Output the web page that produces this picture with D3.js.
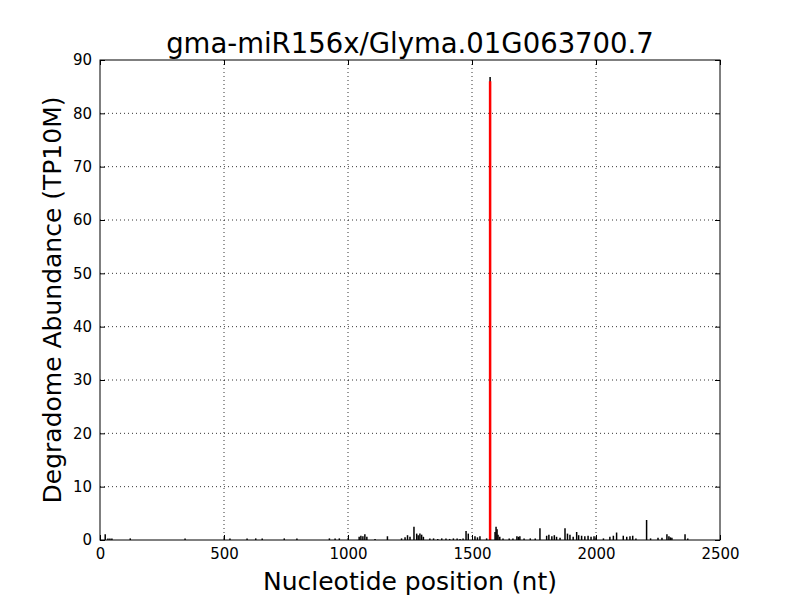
<!DOCTYPE html>
<html>
<head>
<meta charset="utf-8">
<script src="https://cdn.jsdelivr.net/npm/d3@7"></script>
<style>
  body { margin: 0; background: #fff; }
  text { font-family: "DejaVu Sans", sans-serif; }
</style>
</head>
<body>
<div id="chart"></div>
<script>
// chart text
var title = "gma-miR156x/Glyma.01G063700.7";
var xLabel = "Nucleotide position (nt)";
var yLabel = "Degradome Abundance (TP10M)";

// tick values
var xTicks = [0, 500, 1000, 1500, 2000, 2500];
var yTicks = [0, 10, 20, 30, 40, 50, 60, 70, 80, 90];

// degradome profile (position in nt, abundance)
var positions = [21, 32, 40, 48, 122, 343, 501, 524, 593, 628, 654, 743, 794, 925, 948, 965,
  1001, 1045, 1052, 1060, 1068, 1076, 1109, 1159, 1216, 1230, 1240, 1250, 1266, 1277, 1283, 1290, 1297, 1304,
  1330, 1345, 1362, 1378, 1395, 1410, 1425, 1440, 1452, 1464, 1476, 1485, 1512, 1522, 1532, 1559,
  1573, 1593, 1597, 1601, 1605, 1612, 1625, 1650, 1665, 1681, 1687, 1693, 1710, 1735, 1755, 1774,
  1801, 1810, 1822, 1832, 1841, 1855, 1875, 1885, 1895, 1908, 1922, 1930, 1942, 1955, 1968, 1980, 1992, 2000,
  2030, 2056, 2070, 2083, 2110, 2124, 2137, 2148, 2161, 2204, 2220, 2250, 2266, 2286, 2294, 2300, 2306, 2359, 2370];
var abundance = [1.1, 0.3, 0.3, 0.3, 0.3, 0.3, 0.5, 0.3, 0.3, 0.3, 0.3, 0.3, 0.3, 0.3, 0.3, 0.3,
  0.4, 0.6, 0.8, 0.7, 1.1, 0.6, 0.2, 0.7, 0.3, 0.5, 0.9, 0.6, 2.5, 1.2, 0.9, 1.2, 1.0, 0.6,
  0.3, 0.3, 0.2, 0.3, 0.3, 0.2, 0.3, 0.3, 0.2, 0.3, 1.7, 1.2, 0.7, 0.5, 0.7, 0.3,
  86.8, 1.5, 2.5, 2.0, 1.0, 0.6, 0.3, 0.3, 0.3, 0.7, 0.6, 0.7, 0.3, 0.3, 0.3, 2.2,
  0.8, 1.0, 0.7, 0.9, 0.6, 0.4, 2.2, 1.2, 1.0, 0.6, 1.5, 0.9, 0.8, 0.7, 0.8, 0.6, 0.7, 0.5,
  0.3, 0.6, 0.8, 1.4, 0.8, 0.6, 0.7, 0.8, 0.3, 3.75, 0.3, 0.4, 0.4, 1.1, 0.7, 0.5, 0.4, 1.1, 0.3];

// predicted cleavage site
var sitePos = [1573];
var siteVal = [86.0];

var width = 800,
    height = 600;
var margin = {top: 60, right: 80, bottom: 60, left: 100};
var iw = width - margin.left - margin.right,
    ih = height - margin.top - margin.bottom;

var svg = d3.select("#chart").append("svg")
    .attr("width", width)
    .attr("height", height);

var g = svg.append("g")
    .attr("transform", "translate(" + margin.left + "," + margin.top + ")");

var x = d3.scaleLinear().domain([0, 2500]).range([0, iw]);
var y = d3.scaleLinear().domain([0, 90]).range([ih, 0]);

// grid
g.append("g").selectAll("line")
    .data(xTicks.slice(1, -1))
  .enter().append("line")
    .attr("x1", function(d) { return x(d); })
    .attr("x2", function(d) { return x(d); })
    .attr("y1", 0).attr("y2", ih)
    .attr("stroke", "#000").attr("stroke-width", 0.8)
    .attr("stroke-dasharray", "1,3");
g.append("g").selectAll("line")
    .data(yTicks.slice(1, -1))
  .enter().append("line")
    .attr("y1", function(d) { return y(d); })
    .attr("y2", function(d) { return y(d); })
    .attr("x1", 0).attr("x2", iw)
    .attr("stroke", "#000").attr("stroke-width", 0.8)
    .attr("stroke-dasharray", "1,3");

// profile stems
var data = positions.map(function(p, i) { return {pos: p, val: abundance[i]}; });
g.append("g").selectAll("line")
    .data(data)
  .enter().append("line")
    .attr("x1", function(d) { return x(d.pos); })
    .attr("x2", function(d) { return x(d.pos); })
    .attr("y1", y(0))
    .attr("y2", function(d) { return y(d.val); })
    .attr("stroke", "#000")
    .attr("stroke-width", 1.5);

// cleavage site in red
g.append("g").selectAll("line")
    .data(sitePos)
  .enter().append("line")
    .attr("x1", function(d) { return x(d); })
    .attr("x2", function(d) { return x(d); })
    .attr("y1", y(0))
    .attr("y2", function(d, i) { return y(siteVal[i]); })
    .attr("stroke", "#ff0000")
    .attr("stroke-width", 2.5);

// axes, ticks pointing inward on all sides
var fontTick = "15px";
var fmt = d3.format("d");
var xb = g.append("g").attr("transform", "translate(0," + ih + ")")
    .call(d3.axisBottom(x).tickValues(xTicks).tickSizeInner(-5).tickSizeOuter(0).tickPadding(8).tickFormat(fmt));
var xt = g.append("g")
    .call(d3.axisTop(x).tickValues(xTicks).tickSizeInner(-5).tickSizeOuter(0).tickFormat(""));
var yl = g.append("g")
    .call(d3.axisLeft(y).tickValues(yTicks).tickSizeInner(-5).tickSizeOuter(0).tickPadding(8).tickFormat(fmt));
var yr = g.append("g").attr("transform", "translate(" + iw + ",0)")
    .call(d3.axisRight(y).tickValues(yTicks).tickSizeInner(-5).tickSizeOuter(0).tickFormat(""));

[xb, xt, yl, yr].forEach(function(a) {
  a.select(".domain").remove();
  a.selectAll("line").attr("stroke", "#000");
  a.selectAll("text")
    .attr("fill", "#000")
    .style("font-family", "'DejaVu Sans', sans-serif")
    .style("font-size", fontTick);
});

// frame
g.append("rect")
    .attr("width", iw).attr("height", ih)
    .attr("fill", "none")
    .attr("stroke", "#000").attr("stroke-width", 1);

// titles
svg.append("text")
    .attr("x", margin.left + iw / 2).attr("y", 53)
    .attr("text-anchor", "middle")
    .style("font-size", "27.5px")
    .text(title);

svg.append("text")
    .attr("x", margin.left + iw / 2).attr("y", 590)
    .attr("text-anchor", "middle")
    .style("font-size", "25px")
    .text(xLabel);

svg.append("text")
    .attr("transform", "translate(61," + (margin.top + ih / 2) + ") rotate(-90)")
    .attr("text-anchor", "middle")
    .style("font-size", "25px")
    .text(yLabel);
</script>
</body>
</html>
